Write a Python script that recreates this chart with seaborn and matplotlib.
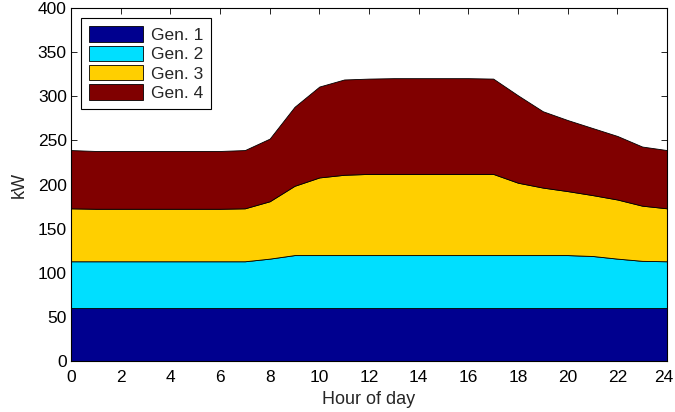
import matplotlib
matplotlib.use("Agg")
import matplotlib.pyplot as plt
import matplotlib.transforms as mtransforms
import seaborn as sns
import numpy as np

hours = list(range(25))
gen1 = [60] * 25
gen2 = [53, 53, 53, 53, 53, 53, 53, 53, 56, 60, 60, 60, 60, 60, 60, 60, 60, 60, 60, 60, 60, 59, 56, 53.5, 53]
gen3 = [60, 59.5, 59.5, 59.5, 59.5, 59.5, 59.5, 60, 65, 78.5, 88, 91, 92, 92, 92, 92, 92, 92, 82, 76.5, 72.5, 69, 67, 62.5, 60]
gen4 = [66, 65.5, 65.5, 65.5, 65.5, 65.5, 65.5, 66, 71, 89.5, 103, 108, 108, 108.5, 108.5, 108.5, 108.5, 108, 99, 86.5, 80.5, 76, 72, 67, 66]
labels = ["Gen. 1", "Gen. 2", "Gen. 3", "Gen. 4"]
colors = ["#00008F", "#00DFFF", "#FFCF00", "#800000"]

sns.set_theme(style="ticks")
plt.rcParams['font.family'] = ['Liberation Sans', 'DejaVu Sans']

fig = plt.figure(figsize=(6.75, 4.12), dpi=100)
ax = fig.add_axes([71/675, 1 - 361/412, (667-71)/675, (361-8)/412])
ax.stackplot(hours, gen1, gen2, gen3, gen4, labels=labels, colors=colors,
             edgecolor="black", linewidth=0.6)
ax.set_xlim(0, 24)
ax.set_ylim(0, 400)
ax.set_xticks(range(0, 25, 2))
ax.set_yticks(range(0, 401, 50))
ax.tick_params(direction="in", top=True, right=True, length=4, width=0.6,
               labelsize=12.5, colors="black", pad=3)
ax.tick_params(axis="x", pad=6.5)
for s in ax.spines.values():
    s.set_linewidth(0.8)
    s.set_color("black")
ax.set_xlabel("Hour of day", fontsize=13, labelpad=4)
ax.set_ylabel("kW", fontsize=13, labelpad=7)
leg = ax.legend(loc="upper left", fancybox=False,
                edgecolor="black", framealpha=1, handlelength=3.1, handleheight=1.0,
                labelspacing=0.15, borderaxespad=0.6, handletextpad=0.45,
                borderpad=0.45, fontsize=12.5)
leg.get_frame().set_linewidth(0.8)

# nudge the last x tick label so it stays inside the canvas
last = ax.get_xticklabels()[-1]
last.set_transform(last.get_transform() +
                   mtransforms.ScaledTranslation(-3/100, 0, fig.dpi_scale_trans))
fig.savefig("out.png", dpi=100)
